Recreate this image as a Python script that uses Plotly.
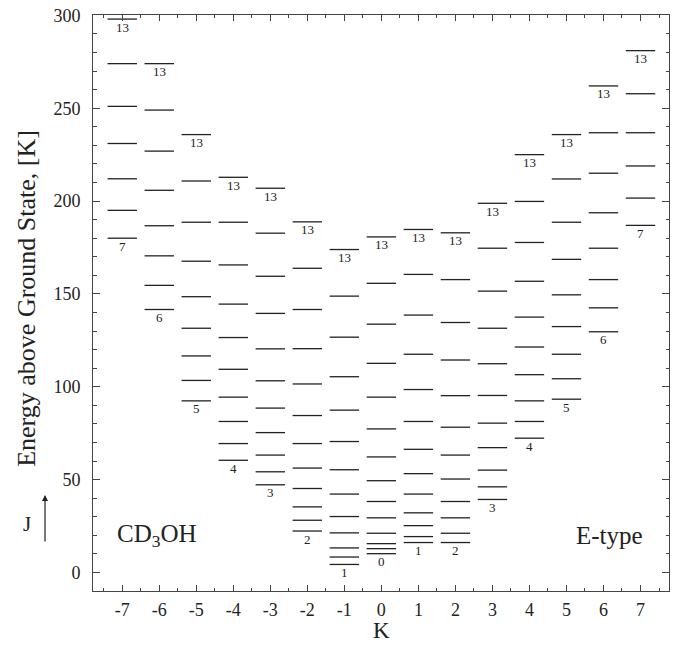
import plotly.graph_objects as go

# ---- data ----
K_values = [-7, -6, -5, -4, -3, -2, -1, 0, 1, 2, 3, 4, 5, 6, 7]
K_ticktext = ["-7", "-6", "-5", "-4", "-3", "-2", "-1", "0", "1", "2", "3", "4", "5", "6", "7"]
J_lowest = [7, 6, 5, 4, 3, 2, 1, 0, 1, 2, 3, 4, 5, 6, 7]
J_highest = [13] * 15

E_m7 = [180, 195, 212, 231, 251, 274, 298]
E_m6 = [141.6, 154.6, 170.5, 186.7, 205.8, 226.9, 249, 274]
E_m5 = [92.4, 103.4, 116.6, 131.5, 148.5, 167.6, 188.6, 210.8, 235.8]
E_m4 = [60.4, 69.4, 81.3, 94.4, 109.4, 126.5, 144.5, 165.6, 188.6, 212.8]
E_m3 = [47.2, 54.2, 63.2, 75.3, 88.5, 103.2, 120.4, 139.5, 159.5, 182.7, 206.9]
E_m2 = [22.3, 28.1, 35.3, 45.2, 56.2, 69.4, 84.5, 101.5, 120.5, 141.6, 163.8, 188.8]
E_m1 = [4.3, 8.3, 13.2, 21.3, 30.1, 42.2, 55.3, 70.5, 87.4, 105.4, 126.7, 148.8, 173.9]
E_0 = [10.1, 12.8, 15.5, 21.1, 29.4, 38.2, 49.4, 62.2, 77.3, 94.4, 112.6, 133.7, 155.7, 180.7]
E_p1 = [16.1, 19.3, 25.2, 32.1, 42.2, 53.2, 66.3, 81.3, 98.5, 117.5, 138.6, 160.5, 184.7]
E_p2 = [16.1, 21.1, 29.4, 38.2, 50.3, 63.2, 78.2, 95.2, 114.4, 134.6, 157.7, 182.9]
E_p3 = [39.3, 46.1, 55.1, 67.2, 80.4, 95.3, 112.4, 131.5, 151.5, 174.6, 198.8]
E_p4 = [72.3, 81.3, 92.4, 106.5, 121.4, 137.5, 156.8, 177.7, 199.8, 225]
E_p5 = [93.3, 104.3, 117.5, 132.4, 149.5, 168.6, 188.6, 211.9, 235.8]
E_p6 = [129.6, 142.5, 157.7, 174.6, 193.7, 215, 236.8, 262]
E_p7 = [186.9, 201.6, 218.9, 236.8, 257.8, 281]

columns = [E_m7, E_m6, E_m5, E_m4, E_m3, E_m2, E_m1, E_0,
           E_p1, E_p2, E_p3, E_p4, E_p5, E_p6, E_p7]

FONT = "Liberation Serif"
INK = "#222222"

fig = go.Figure()
annotations = []
for k, energies, jlo, jhi in zip(K_values, columns, J_lowest, J_highest):
    fig.add_trace(go.Scatter(
        x=[k] * len(energies), y=energies, mode="markers",
        marker=dict(symbol="line-ew", size=21, color=INK,
                    line=dict(width=1.3, color=INK)),
        showlegend=False, hoverinfo="y"))
    for e, j in ((energies[0], jlo), (energies[-1], jhi)):
        annotations.append(dict(x=k, y=e, xref="x", yref="y", text=str(j),
                                showarrow=False, yanchor="middle", yshift=-8,
                                font=dict(family=FONT, size=13, color=INK)))

annotations += [
    dict(x=-6.06, y=20, xref="x", yref="y", text="CD<sub>3</sub>OH", showarrow=False,
         xanchor="center", yanchor="middle",
         font=dict(family=FONT, size=25, color=INK)),
    dict(x=6.15, y=20, xref="x", yref="y", text="E-type", showarrow=False,
         xanchor="center", yanchor="middle",
         font=dict(family=FONT, size=25, color=INK)),
    dict(x=-0.1146, y=0.1163, xref="paper", yref="paper", text="J", showarrow=False,
         xanchor="center", yanchor="middle",
         font=dict(family=FONT, size=21, color=INK)),
    dict(x=-0.0833, y=0.1667, xref="paper", yref="paper", text="", showarrow=True,
         ax=0, ay=48, arrowhead=2, arrowsize=1, arrowwidth=1.2, arrowcolor=INK),
    dict(x=-0.1146, y=0.509, xref="paper", yref="paper", text="Energy above Ground State, [K]",
         textangle=-90, showarrow=False, xanchor="center", yanchor="middle",
         font=dict(family=FONT, size=26, color=INK)),
    dict(x=0.5, y=-0.0694, xref="paper", yref="paper", text="K", showarrow=False,
         xanchor="center", yanchor="middle",
         font=dict(family=FONT, size=23, color=INK)),
]

axis_common = dict(showline=True, linecolor="#444444", linewidth=1, mirror="allticks",
                   ticks="inside", tickcolor="#444444", showgrid=False, zeroline=False,
                   automargin=False,
                   tickfont=dict(family=FONT, size=18, color=INK))

fig.update_xaxes(range=[-7.79, 7.77], tickvals=K_values, ticktext=K_ticktext, ticklen=6,
                 ticklabelstandoff=2,
                 minor=dict(ticks="inside", dtick=0.5, tick0=-7.5, ticklen=3,
                            tickcolor="#444444", showgrid=False),
                 **axis_common)
fig.update_yaxes(range=[-10, 300.2], dtick=50, tick0=0, ticklen=7,
                 ticklabelstandoff=8,
                 minor=dict(ticks="inside", dtick=10, ticklen=3.5,
                            tickcolor="#444444", showgrid=False),
                 **axis_common)

fig.update_layout(width=679, height=647, margin=dict(l=93, r=10, t=15, b=56),
                  plot_bgcolor="white", paper_bgcolor="white",
                  annotations=annotations)

fig.write_html("out.html", config={"displayModeBar": False},
               post_script="document.body.style.margin='0';document.body.style.overflow='hidden';")
